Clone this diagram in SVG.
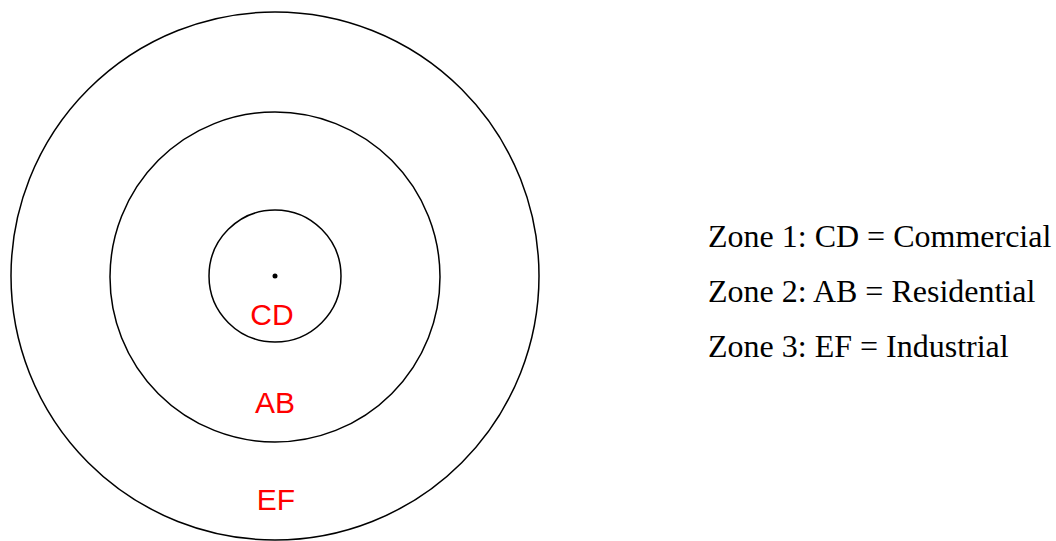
<svg xmlns="http://www.w3.org/2000/svg" width="1056" height="541" viewBox="0 0 1056 541">
  <style>
    .ring { fill: none; stroke: #000; stroke-width: 1.5; }
    .zone { font-family: "Liberation Sans", Arial, sans-serif; font-size: 30px; fill: #ff0000; text-anchor: middle; }
    .legend { font-family: "Liberation Serif", "Times New Roman", serif; font-size: 32px; fill: #000; }
  </style>
  <rect width="1056" height="541" fill="#fff"/>
  <g id="zone3">
    <circle class="ring" cx="275" cy="276" r="264"/>
    <text class="zone" x="276" y="510">EF</text>
  </g>
  <g id="zone2">
    <circle class="ring" cx="275" cy="277" r="165"/>
    <text class="zone" x="275" y="413">AB</text>
  </g>
  <g id="zone1">
    <circle class="ring" cx="275" cy="276" r="66"/>
    <circle cx="275" cy="276" r="2.5" fill="#000"/>
    <text class="zone" x="272" y="325">CD</text>
  </g>
  <g id="legend">
    <text class="legend" x="708" y="247">Zone 1: CD = Commercial</text>
    <text class="legend" x="708" y="302">Zone 2: AB = Residential</text>
    <text class="legend" x="708" y="357">Zone 3: EF = Industrial</text>
  </g>
</svg>
